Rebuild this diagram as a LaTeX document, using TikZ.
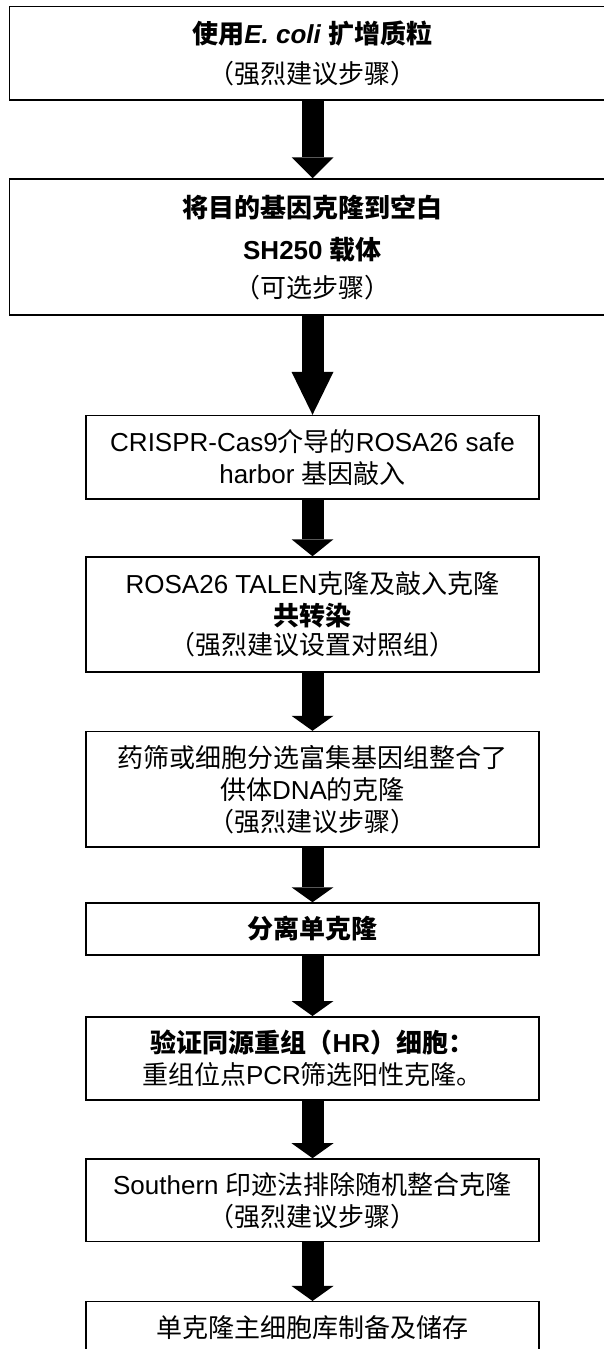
\documentclass[tikz,border=0pt]{standalone}
\usepackage{fontspec}
\setmainfont{Liberation Sans}
\newfontfamily\cjk{Noto Sans CJK SC}
\usetikzlibrary{arrows.meta}
\newcommand{\zh}[1]{{\cjk #1}}

\begin{document}
\begin{tikzpicture}[x=1pt,y=-1pt,
  widebox/.style={draw, line width=1.5pt, minimum width=605.6pt, inner sep=0pt,
    align=center, font=\fontsize{26}{32}\selectfont},
  stepbox/.style={widebox, minimum width=453.3pt},
  flow/.style={line width=22pt, -{Triangle[width=42pt,length=#1,line width=0pt]}},
  flow/.default=15pt]
  \useasboundingbox (0,0) rectangle (603,1349);

  \node[widebox, minimum height=93.5pt] (amp) at (312.5,53.3)
    {\textbf{\zh{使用}\textit{E. coli} \zh{扩增质粒}}\\[8pt] \zh{（强烈建议步骤）}};
  \node[widebox, minimum height=136pt] (vec) at (312.5,247)
    {\textbf{\zh{将目的基因克隆到空白}}\\[10pt] \textbf{SH250 \zh{载体}}\\[6pt] \zh{（可选步骤）}};
  \node[stepbox, minimum height=83.5pt] (crispr) at (312.5,457.3)
    {CRISPR-Cas9\zh{介导的}ROSA26 safe\\ harbor \zh{基因敲入}};
  \node[stepbox, minimum height=115pt] (talen) at (312.5,614.5)
    {ROSA26 TALEN\zh{克隆及敲入克隆}\\ \textbf{\zh{共转染}}\\[-3pt] \zh{（强烈建议设置对照组）}};
  \node[stepbox, minimum height=115.5pt] (enrich) at (312.5,789.3)
    {\zh{药筛或细胞分选富集基因组整合了}\\ \zh{供体}DNA\zh{的克隆}\\ \zh{（强烈建议步骤）}};
  \node[stepbox, minimum height=52pt] (single) at (312.5,929)
    {\textbf{\zh{分离单克隆}}};
  \node[stepbox, minimum height=83.3pt] (hr) at (312.5,1058.4)
    {\textbf{\zh{验证同源重组（}HR\zh{）细胞：}}\\ \zh{重组位点}PCR\zh{筛选阳性克隆。}};
  \node[stepbox, minimum height=82.7pt] (south) at (312.5,1200.3)
    {Southern \zh{印迹法排除随机整合克隆}\\ \zh{（强烈建议步骤）}};
  \node[stepbox, minimum height=52pt] (bank) at (312.5,1327.7)
    {\zh{单克隆主细胞库制备及储存}};

  \draw[flow=21pt] (amp) -- (vec);
  \draw[flow=43pt] (vec) -- (crispr);
  \draw[flow=17pt] (crispr) -- (talen);
  \draw[flow] (talen) -- (enrich);
  \draw[flow] (enrich) -- (single);
  \draw[flow] (single) -- (hr);
  \draw[flow] (hr) -- (south);
  \draw[flow] (south) -- (bank);
\end{tikzpicture}
\end{document}
